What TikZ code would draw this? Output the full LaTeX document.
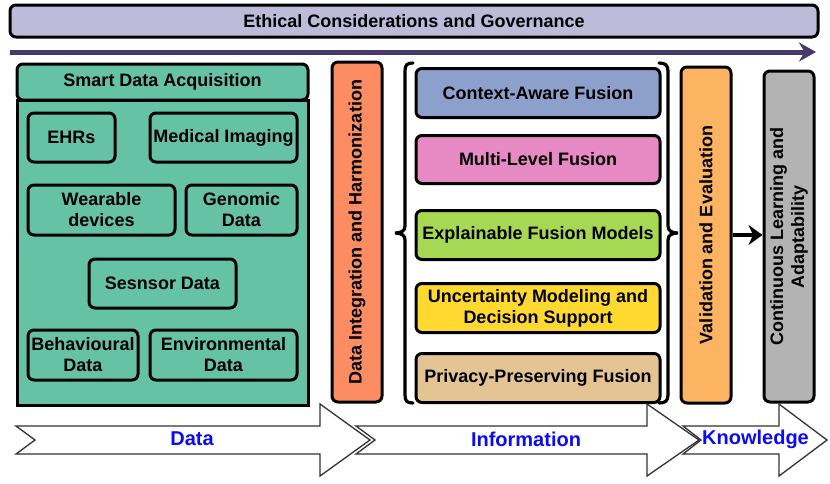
\documentclass[tikz,border=0pt]{standalone}
\usepackage{fontspec}
\setmainfont{Liberation Sans}
\usetikzlibrary{arrows.meta}
\definecolor{banner}{HTML}{BEBADA}
\definecolor{sdagreen}{HTML}{66C2A5}
\definecolor{integ}{HTML}{FC8D62}
\definecolor{ctx}{HTML}{8DA0CB}
\definecolor{multi}{HTML}{E78AC3}
\definecolor{expl}{HTML}{A6D854}
\definecolor{unc}{HTML}{FFD92F}
\definecolor{priv}{HTML}{E5C494}
\definecolor{valid}{HTML}{FDB462}
\definecolor{contl}{HTML}{B3B3B3}
\definecolor{purplearrow}{RGB}{72,56,108}
\definecolor{arrowedge}{RGB}{50,50,50}
\definecolor{labelblue}{RGB}{10,10,245}
\tikzset{
  box/.style={draw=black, line width=3pt, rounded corners=6pt, inner sep=1pt,
    align=center, font=\fontsize{18}{21}\selectfont\bfseries},
  sharpbox/.style={draw=black, line width=3pt, inner sep=0pt},
  vbox/.style={box, rotate=90},
  bigarrow/.style={draw=arrowedge, line width=1.3pt, fill=white, line join=miter},
  flowlabel/.style={inner sep=0pt, text=labelblue, font=\fontsize{20}{22}\selectfont\bfseries},
  bracestyle/.style={draw=black, line width=3.2pt, line cap=round}
}
\begin{document}
\begin{tikzpicture}[x=1pt, y=-1pt]
\path[use as bounding box] (0,0) rectangle (830,483);

% banner
\node[box, fill=banner, minimum width=808pt, minimum height=32pt] (ethics) at (414,21) {Ethical Considerations and Governance};

% purple arrow
\coordinate (pstart) at (10,52);
\coordinate (pend) at (816,52);
\draw[purplearrow, line width=5pt, -{Stealth[length=17pt,width=19pt]}] (pstart) -- (pend);

% smart data acquisition
\node[sharpbox, fill=sdagreen, minimum width=291pt, minimum height=305pt] (sdabody) at (162.5,252.5) {};
\node[box, fill=sdagreen, minimum width=291pt, minimum height=36pt] (sdahead) at (162.5,82) {Smart Data Acquisition};
\node[box, fill=sdagreen, minimum width=87pt, minimum height=49pt] (ehr) at (71.5,137.5) {EHRs};
\node[box, fill=sdagreen, minimum width=147pt, minimum height=49pt] (img) at (223.5,137.5) {Medical Imaging};
\node[box, fill=sdagreen, minimum width=147pt, minimum height=50pt] (wear) at (101.5,210) {Wearable\\devices};
\node[box, fill=sdagreen, minimum width=111pt, minimum height=50pt] (geno) at (241.5,210) {Genomic\\Data};
\node[box, fill=sdagreen, minimum width=147pt, minimum height=49pt] (sens) at (162.5,283.5) {Sesnsor Data};
\node[box, fill=sdagreen, minimum width=110pt, minimum height=50pt] (behav) at (83,355) {Behavioural\\Data};
\node[box, fill=sdagreen, minimum width=147pt, minimum height=50pt] (env) at (223.5,355) {Environmental\\Data};

% integration
\node[vbox, fill=integ, minimum width=340pt, minimum height=50pt] (integ) at (357,232) {Data Integration and Harmonization};

% braces
\draw[bracestyle] (413,63) .. controls (407,63) and (405,65) .. (405,71) -- (405,226)
  .. controls (405,231) and (401,233) .. (395,233)
  .. controls (401,233) and (405,235) .. (405,240) -- (405,395)
  .. controls (405,401) and (407,403) .. (413,403);
\draw[bracestyle] (659,63) .. controls (665,63) and (668,65) .. (668,71) -- (668,226)
  .. controls (668,231) and (672,233) .. (678,233)
  .. controls (672,233) and (668,235) .. (668,240) -- (668,395)
  .. controls (668,401) and (665,403) .. (659,403);

% fusion boxes
\node[box, fill=ctx, minimum width=244pt, minimum height=49pt] (ctxf) at (538,93) {Context-Aware Fusion};
\node[box, fill=multi, minimum width=244pt, minimum height=48pt] (multif) at (538,159.5) {Multi-Level Fusion};
\node[box, fill=expl, minimum width=244pt, minimum height=49pt] (explf) at (538,235) {Explainable Fusion Models};
\node[box, fill=unc, minimum width=244pt, minimum height=49pt] (uncf) at (538,308) {Uncertainty Modeling and\\Decision Support};
\node[box, fill=priv, minimum width=244pt, minimum height=49pt] (privf) at (538,378) {Privacy-Preserving Fusion};

% validation and continuous learning
\node[vbox, fill=valid, minimum width=336pt, minimum height=50pt] (valid) at (706,235) {Validation and Evaluation};
\node[vbox, fill=contl, minimum width=331pt, minimum height=50pt] (cont) at (789,236.5) {Continuous Learning and\\Adaptability};
\draw[line width=3.5pt, -{Stealth[length=14pt,width=20pt]}] (valid.south |- 0,235) -- (cont.north |- 0,235);

% bottom flow arrows
\draw[bigarrow] (16,426) -- (320,426) -- (320,404) -- (370,440) -- (320,476) -- (320,454) -- (16,454) -- (35,440) -- cycle;
\draw[bigarrow] (356,426) -- (647,426) -- (647,404) -- (699,440) -- (647,476) -- (647,454) -- (356,454) -- (375,440) -- cycle;
\draw[bigarrow] (683,426) -- (779,426) -- (779,404) -- (827,440) -- (779,476) -- (779,454) -- (683,454) -- (701,440) -- cycle;
\node[flowlabel] (ldata) at (192,439) {Data};
\node[flowlabel] (linfo) at (526,439) {Information};
\node[flowlabel] (lknow) at (755.5,439) {Knowledge};
\end{tikzpicture}
\end{document}
